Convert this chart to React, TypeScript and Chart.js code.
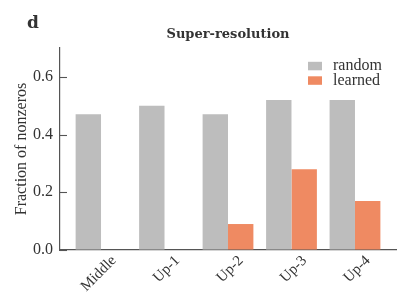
import React, { useEffect, useRef } from "react";
import { Chart, registerables } from "chart.js";

Chart.register(...registerables);

const categories = ["Middle", "Up-1", "Up-2", "Up-3", "Up-4"];
const randomValues = [0.47, 0.5, 0.47, 0.52, 0.52];
const learnedValues = [0, 0, 0.09, 0.28, 0.17];
const yTicks = [0, 0.2, 0.4, 0.6];
const seriesNames = ["random", "learned"];
const seriesColors = ["#bdbdbd", "#ef8a62"];
const titleText = "Super-resolution";
const panelLabel = "d";
const yTitle = "Fraction of nonzeros";

const SERIF = "'Liberation Serif', 'DejaVu Serif', serif";
const BOLD_SERIF = "'DejaVu Serif', 'Liberation Serif', serif";
const TEXT = "#333333";
const AXIS = "#555555";

const decorPlugin = {
  id: "decor",
  afterDraw(chart: any) {
    const { ctx, chartArea, scales } = chart;
    ctx.save();
    const ys = scales.y;
    ctx.strokeStyle = AXIS;
    ctx.lineWidth = 1.1;
    yTicks.forEach((v) => {
      const py = Math.round(ys.getPixelForValue(v)) + 0.5;
      ctx.beginPath();
      ctx.moveTo(chartArea.left, py);
      ctx.lineTo(chartArea.left + 7, py);
      ctx.stroke();
    });
    ctx.fillStyle = TEXT;
    ctx.font = `bold 17px ${BOLD_SERIF}`;
    ctx.textAlign = "left";
    ctx.textBaseline = "alphabetic";
    ctx.fillText(panelLabel, 27, 28);
    ctx.font = `bold 13px ${BOLD_SERIF}`;
    ctx.textAlign = "center";
    ctx.fillText(titleText, (chartArea.left + chartArea.right) / 2, 37.5);
    ctx.font = `16px ${SERIF}`;
    ctx.textAlign = "left";
    ctx.textBaseline = "middle";
    chart.data.datasets.forEach((ds: any, i: number) => {
      const cy = 66 + i * 14.5;
      ctx.fillStyle = ds.backgroundColor;
      ctx.fillRect(308, cy - 4.2, 14, 8.5);
      ctx.fillStyle = TEXT;
      ctx.fillText(ds.label, 333, cy);
    });
    ctx.restore();
  },
};

export default function App() {
  const ref = useRef<HTMLCanvasElement>(null);
  useEffect(() => {
    if (!ref.current) return;
    const chart = new Chart(ref.current, {
      type: "bar",
      data: {
        datasets: [
          {
            label: seriesNames[0],
            data: randomValues.map((v, i) => ({ x: i, y: v })),
            backgroundColor: seriesColors[0],
            borderWidth: 0,
            categoryPercentage: 0.8,
            barPercentage: 1.0,
          },
          {
            label: seriesNames[1],
            data: learnedValues.map((v, i) => ({ x: i, y: v })),
            backgroundColor: seriesColors[1],
            borderWidth: 0,
            categoryPercentage: 0.8,
            barPercentage: 1.0,
          },
        ],
      },
      options: {
        animation: false,
        responsive: false,
        maintainAspectRatio: false,
        layout: { padding: { top: 48, right: 12, left: 0, bottom: 0 } },
        plugins: {
          legend: { display: false },
          title: { display: false },
          tooltip: { enabled: false },
        },
        scales: {
          x: {
            type: "linear",
            offset: false,
            min: -0.646,
            max: 4.646,
            afterFit: (s: any) => {
              s.height = 57;
            },
            grid: { display: false, drawTicks: false, offset: false },
            border: { display: true, color: AXIS, width: 1.2 },
            ticks: {
              stepSize: 1,
              includeBounds: false,
              autoSkip: false,
              maxRotation: 45,
              minRotation: 45,
              padding: 2,
              labelOffset: 13,
              color: TEXT,
              font: { family: SERIF, size: 15 },
              callback: (v: any) =>
                Number.isInteger(v) && categories[v] !== undefined ? categories[v] : "",
            },
          },
          y: {
            min: 0,
            max: 0.7,
            afterFit: (s: any) => {
              s.width = 60;
            },
            grid: { display: true, drawOnChartArea: false, drawTicks: false },
            border: { display: true, color: AXIS, width: 1.2 },
            ticks: {
              stepSize: 0.2,
              includeBounds: false,
              padding: 7,
              color: TEXT,
              font: { family: SERIF, size: 16 },
              callback: (v: any) => Number(v).toFixed(1),
            },
            title: {
              display: true,
              text: yTitle,
              color: TEXT,
              font: { family: SERIF, size: 16 },
              padding: { top: 12, bottom: 0 },
            },
          },
        },
      },
      plugins: [decorPlugin],
    } as any);
    return () => chart.destroy();
  }, []);
  return (
    <div style={{ position: "absolute", left: 0, top: 0, width: 408, height: 307 }}>
      <canvas ref={ref} width={408} height={307} style={{ display: "block" }} />
    </div>
  );
}
